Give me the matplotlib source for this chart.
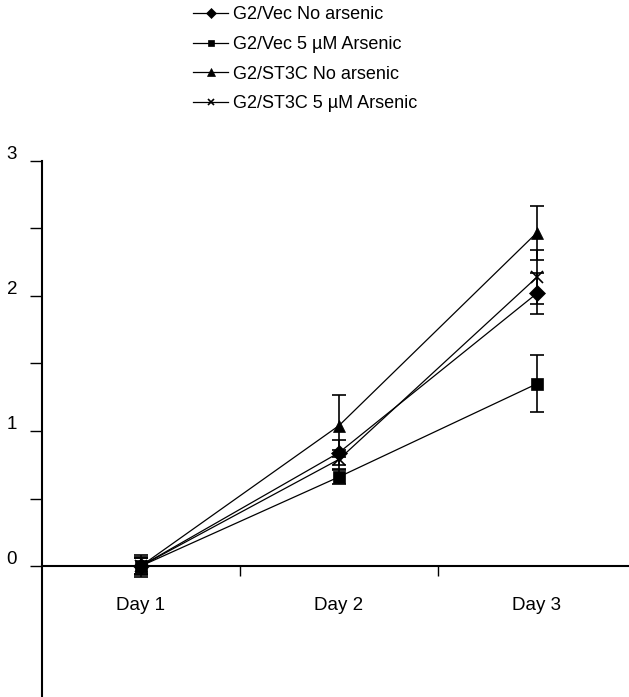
import matplotlib.pyplot as plt
import matplotlib.transforms as mtransforms
import numpy as np

plt.rcParams['font.family'] = ['Liberation Sans', 'DejaVu Sans']

days = ['Day 1', 'Day 2', 'Day 3']
labels = ['G2/Vec No arsenic', 'G2/Vec 5 \u00b5M Arsenic',
          'G2/ST3C No arsenic', 'G2/ST3C 5 \u00b5M Arsenic']
markers = ['D', 's', '^', 'x']
msizes = [8, 8, 9, 8]

vec_no = [0.0, 0.84, 2.02]
vec_as = [0.0, 0.66, 1.35]
st3c_no = [0.0, 1.04, 2.47]
st3c_as = [0.0, 0.79, 2.14]

vec_no_err = [0.06, 0.09, 0.15]
vec_as_err = [0.07, 0.05, 0.21]
st3c_no_err = [0.08, 0.23, 0.20]
st3c_as_err = [0.06, 0.07, 0.20]

series = [vec_no, vec_as, st3c_no, st3c_as]
errors = [vec_no_err, vec_as_err, st3c_no_err, st3c_as_err]

fs = 13.5
fig = plt.figure(figsize=(6.29, 6.97), dpi=100)
W, H = 629, 697
ax = fig.add_axes([42 / W, 1 - 701 / H, 594 / W, 540 / H])

x = np.arange(1, len(days) + 1)
handles = []
for ys, es, lab, mk, ms in zip(series, errors, labels, markers, msizes):
    ax.errorbar(x, ys, yerr=es, fmt='none', ecolor='black',
                elinewidth=1.2, capsize=5, capthick=1.2, zorder=2)
    h, = ax.plot(x, ys, color='black', linewidth=0.9, marker=mk,
                 markersize=ms, markeredgewidth=1.2 if mk == 'x' else 0.5,
                 markerfacecolor='black', markeredgecolor='black',
                 label=lab, zorder=3, clip_on=False)
    handles.append(h)

ax.set_xlim(0.5, 3.5)
ax.set_ylim(-1, 3)

for s in ['top', 'right']:
    ax.spines[s].set_visible(False)
ax.spines['bottom'].set_position(('data', 0))
ax.spines['left'].set_linewidth(1.5)
ax.spines['bottom'].set_linewidth(1.5)

ax.set_yticks([0, 1, 2, 3])
ax.set_yticks([0.5, 1.5, 2.5], minor=True)
ax.tick_params(axis='y', which='both', direction='out', length=9,
               width=1, labelsize=fs, pad=9)
offset = mtransforms.ScaledTranslation(0, 6 / 72, fig.dpi_scale_trans)
for lbl in ax.get_yticklabels():
    lbl.set_transform(lbl.get_transform() + offset)

ax.set_xticks([1.5, 2.5])
ax.set_xticklabels([])
ax.set_xticks(x, minor=True)
ax.set_xticklabels(days, minor=True)
ax.tick_params(axis='x', which='major', direction='out', length=7, width=1)
ax.tick_params(axis='x', which='minor', length=0, labelsize=fs, pad=22)

fig.legend(handles=handles, labels=labels, loc='upper left',
           bbox_to_anchor=(193 / W, 1 - 6 / H), frameon=False,
           fontsize=13, handlelength=1.95, handletextpad=0.25,
           labelspacing=0.71, borderpad=0, borderaxespad=0,
           markerscale=0.6)

fig.savefig('out.png', dpi=100)
